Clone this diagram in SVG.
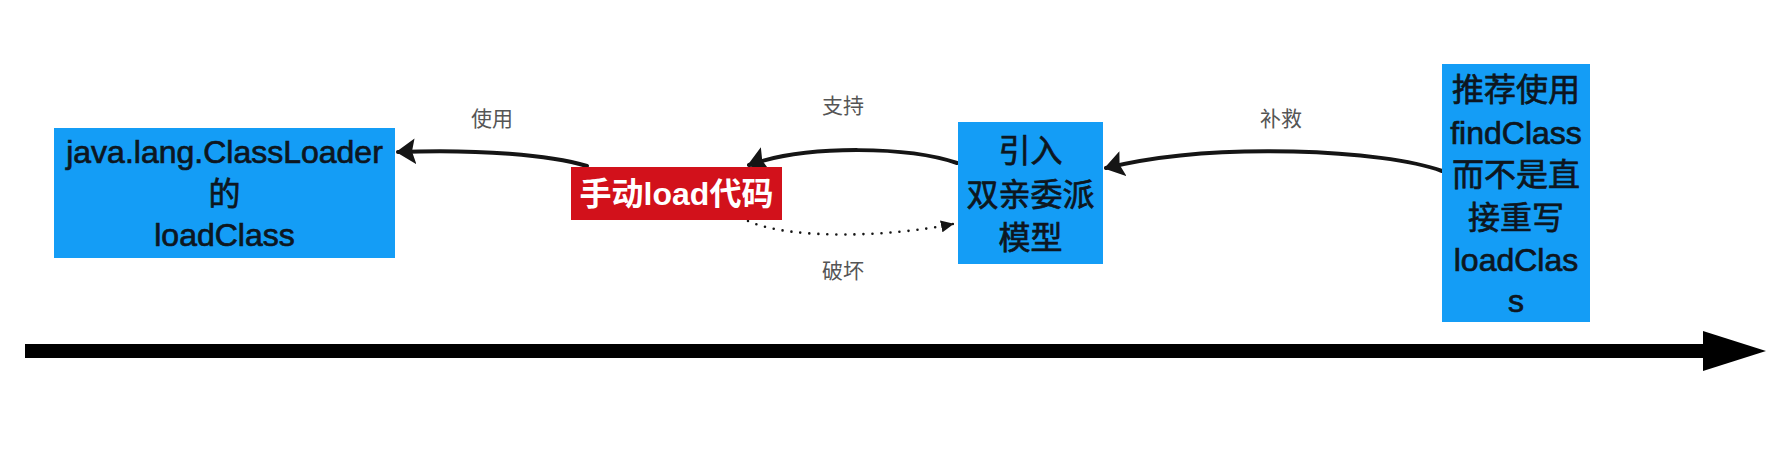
<svg xmlns="http://www.w3.org/2000/svg" width="1773" height="449" viewBox="0 0 1773 449">
<style>
.box{fill:#149df6;}
.red{fill:#d2111b;}
.t{font-family:"Liberation Sans","Noto Sans CJK SC",sans-serif;font-size:32px;fill:#0d1620;stroke:#0d1620;stroke-width:0.7;text-anchor:middle;}
.tw{font-family:"Liberation Sans","Noto Sans CJK SC",sans-serif;font-size:32px;font-weight:bold;fill:#ffffff;text-anchor:middle;}
.lbl{font-family:"Noto Sans CJK SC","Liberation Sans",sans-serif;font-size:21px;fill:#555555;text-anchor:middle;}
.c{fill:none;stroke:#151515;stroke-width:4;stroke-linecap:round;}
.d{fill:none;stroke:#151515;stroke-width:2.6;stroke-linecap:round;stroke-dasharray:0 9;}
</style>
<defs>
<marker id="ah" markerUnits="userSpaceOnUse" viewBox="0 0 20 26" refX="18" refY="13" markerWidth="20" markerHeight="26" orient="auto">
<path d="M0,0 L20,13 L1,26 L4,13 Z" fill="#151515"/>
</marker>
<marker id="ahs" markerUnits="userSpaceOnUse" viewBox="0 0 13 12" refX="12" refY="6" markerWidth="13" markerHeight="12" orient="auto">
<path d="M0,0 L13,6 L0,12 Z" fill="#151515"/>
</marker>
</defs>
<rect width="1773" height="449" fill="#ffffff"/>
<g id="connectors">
<path class="c" d="M587,166 C550,155 480,149 398,152" marker-end="url(#ah)"/>
<path class="c" d="M957,163 C910,147 810,144 749,165" marker-end="url(#ah)"/>
<path class="d" d="M748,221 C790,240 890,237 953,224" marker-end="url(#ahs)"/>
<path class="c" d="M1442,171 C1385,150 1215,141 1106,168" marker-end="url(#ah)"/>
<text class="lbl" x="492" y="126">使用</text>
<text class="lbl" x="843" y="113">支持</text>
<text class="lbl" x="843" y="278">破坏</text>
<text class="lbl" x="1281" y="126">补救</text>
</g>
<g id="axis">
<line x1="25" y1="351" x2="1706" y2="351" stroke="#000000" stroke-width="14"/>
<polygon points="1703,331 1766,351 1703,371" fill="#000000"/>
</g>
<g id="node-classloader">
<rect class="box" x="54" y="128" width="341" height="130"/>
<text class="t" x="224.5" y="163">java.lang.ClassLoader</text>
<text class="t" x="224.5" y="205">的</text>
<text class="t" x="224.5" y="246">loadClass</text>
</g>
<g id="node-manual">
<rect class="red" x="571" y="167" width="211" height="53"/>
<text class="tw" x="676.5" y="205">手动load代码</text>
</g>
<g id="node-parent">
<rect class="box" x="958" y="122" width="145" height="142"/>
<text class="t" x="1030.5" y="162">引入</text>
<text class="t" x="1030.5" y="206">双亲委派</text>
<text class="t" x="1030.5" y="249">模型</text>
</g>
<g id="node-findclass">
<rect class="box" x="1442" y="64" width="148" height="258"/>
<text class="t" x="1516" y="101">推荐使用</text>
<text class="t" x="1516" y="144">findClass</text>
<text class="t" x="1516" y="186">而不是直</text>
<text class="t" x="1516" y="229">接重写</text>
<text class="t" x="1516" y="271">loadClas</text>
<text class="t" x="1516" y="312">s</text>
</g>
</svg>
